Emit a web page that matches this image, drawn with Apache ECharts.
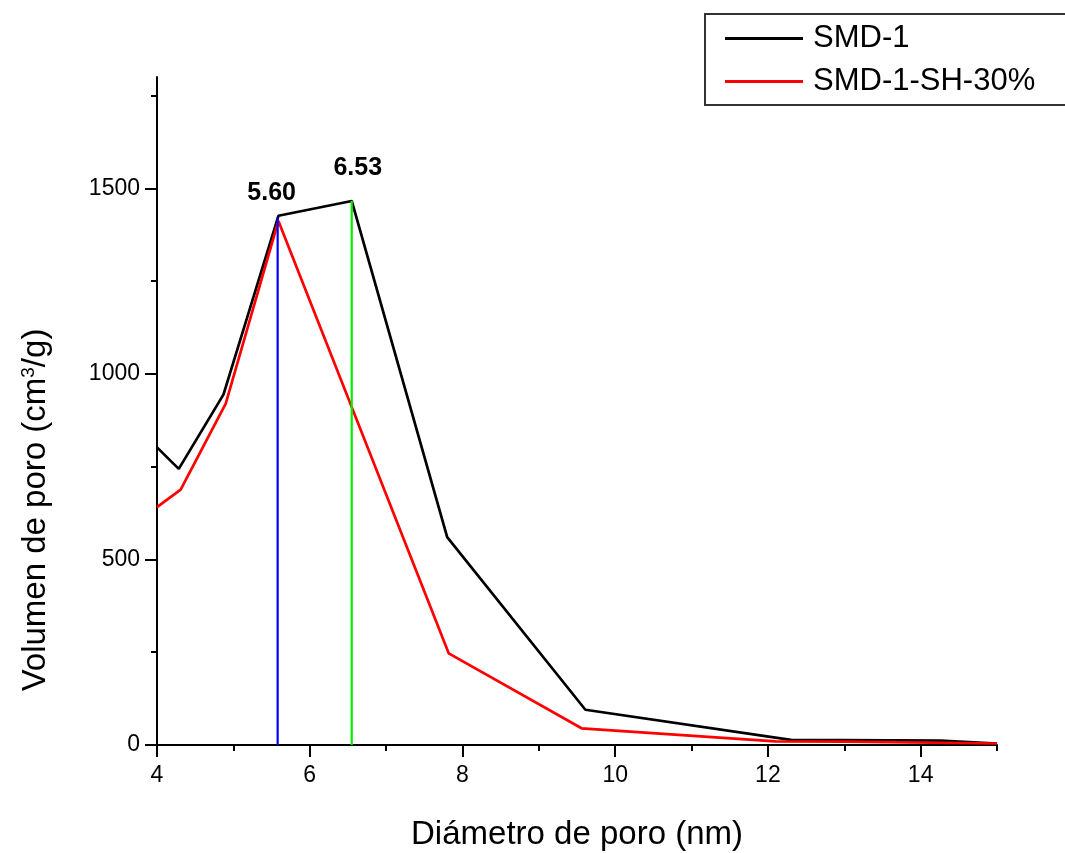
<!DOCTYPE html>
<html>
<head>
<meta charset="utf-8">
<script src="https://cdn.jsdelivr.net/npm/echarts@6/dist/echarts.min.js"></script>
<style>html,body{margin:0;padding:0;background:#fff;}#c{width:1065px;height:853px;}</style>
</head>
<body>
<div id="c"></div>
<script>
// ---- data ----
const seriesNames = ['SMD-1', 'SMD-1-SH-30%'];
const smd1 = [[4,802],[4.285,744],[4.87,944],[5.59,1426],[6.55,1466],[7.80,560],[9.61,95],[12.3,14],[14.26,12],[15,4]];
const smd1sh = [[4,641],[4.31,688],[4.9,920],[5.59,1412],[7.82,247],[9.56,45],[12.1,10],[13.0,9],[13.02,4],[15,4]];
const peak1 = [[5.58,0],[5.58,1421]];
const peak2 = [[6.55,0],[6.55,1466]];
const peakLabels = ['5.60', '6.53'];
const xMajor = [4,6,8,10,12,14];
const xMinor = [5,7,9,11,13,15];
const yMajor = [0,500,1000,1500];
const yMinor = [250,750,1250,1750];

const FONT = 'Liberation Sans, Arial, sans-serif';
const chart = echarts.init(document.getElementById('c'), null, {renderer:'canvas'});
const axisLine = {show:true, lineStyle:{color:'#000', width:2}};
const baseX = {type:'value', min:4, max:15, position:'bottom', splitLine:{show:false}};
const baseY = {type:'value', min:0, max:1800, position:'left', splitLine:{show:false}};

function peakData(pts, label, dist, dx) {
  return pts.map((p, i) => i === 1 ? {
    value: p,
    label: {show:true, formatter:label, position:'top', distance:dist, offset:[dx,0],
            color:'#000', fontWeight:'bold', fontSize:25, fontFamily:FONT}
  } : {value: p, label:{show:false}});
}

chart.setOption({
  animation:false,
  backgroundColor:'#fff',
  grid:{left:157, right:68, top:77, bottom:108, containLabel:false, outerBoundsMode:'none'},
  xAxis:[
    Object.assign({}, baseX, {
      axisLine: axisLine,
      axisTick:{show:true, inside:false, length:12, customValues:xMajor, lineStyle:{color:'#000', width:2}},
      axisLabel:{customValues:xMajor, margin:19, color:'#000', fontSize:23, fontFamily:FONT},
      name:'Diámetro de poro (nm)', nameLocation:'middle', nameGap:73,
      nameTextStyle:{color:'#000', fontSize:33, fontFamily:FONT}
    }),
    Object.assign({}, baseX, {
      axisLine:{show:false},
      axisTick:{show:true, inside:false, length:6, customValues:xMinor, lineStyle:{color:'#000', width:2}},
      axisLabel:{show:false}
    })
  ],
  yAxis:[
    Object.assign({}, baseY, {
      axisLine: axisLine,
      axisTick:{show:true, inside:false, length:12, customValues:yMajor, lineStyle:{color:'#000', width:2}},
      axisLabel:{customValues:yMajor, margin:17, color:'#000', fontSize:23, fontFamily:FONT,
                 formatter:(v)=>String(v)}
    }),
    Object.assign({}, baseY, {
      axisLine:{show:false},
      axisTick:{show:true, inside:false, length:6, customValues:yMinor, lineStyle:{color:'#000', width:2}},
      axisLabel:{show:false}
    })
  ],
  legend:{
    data: seriesNames,
    orient:'vertical', left:705, top:14,
    icon:'rect', itemWidth:78, itemHeight:3, itemGap:12,
    padding:[9, 60, 8, 20],
    borderColor:'#333', borderWidth:2, backgroundColor:'#fff',
    textStyle:{color:'#000', fontSize:31, lineHeight:30, fontFamily:FONT, padding:[0,0,0,5]}
  },
  graphic:[{
    type:'text', x:36, y:510, rotation:Math.PI/2,
    style:{
      text:'Volumen de poro (cm{sup|3}/g)',
      font:'33px ' + FONT, fill:'#000', align:'center', verticalAlign:'middle',
      rich:{sup:{fontSize:19, fontFamily:FONT, fill:'#000', verticalAlign:'top', lineHeight:19}}
    }
  }],
  series:[
    {name:seriesNames[0], type:'line', data:smd1, showSymbol:false, symbol:'none',
     lineStyle:{color:'#000', width:2.7}, itemStyle:{color:'#000'}, z:2},
    {name:seriesNames[1], type:'line', data:smd1sh, showSymbol:false, symbol:'none',
     lineStyle:{color:'#ff0000', width:2.7}, itemStyle:{color:'#ff0000'}, z:3},
    {name:'peak1', type:'line', data:peakData(peak1, peakLabels[0], 12, -6),
     showSymbol:true, symbol:'circle', symbolSize:0, lineStyle:{color:'#0000ff', width:2.2}, itemStyle:{color:'#0000ff'}, z:4},
    {name:'peak2', type:'line', data:peakData(peak2, peakLabels[1], 20, 6),
     showSymbol:true, symbol:'circle', symbolSize:0, lineStyle:{color:'#00ee00', width:2.2}, itemStyle:{color:'#00ee00'}, z:4}
  ]
});
</script>
</body>
</html>
